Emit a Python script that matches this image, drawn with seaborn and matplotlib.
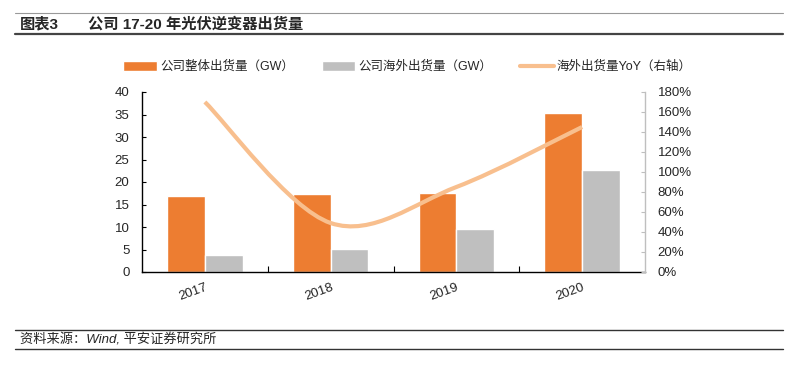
import pandas as pd
import matplotlib.pyplot as plt
import seaborn as sns
from matplotlib.path import Path
from matplotlib.patches import PathPatch, Patch
from matplotlib.lines import Line2D
from matplotlib.ticker import FuncFormatter

years = ['2017', '2018', '2019', '2020']
total_gw = [16.9, 17.3, 17.6, 35.4]
overseas_gw = [3.8, 5.1, 9.6, 22.7]
overseas_yoy = [170, 49, 85, 145]

lbl_total = '公司整体出货量（GW）'
lbl_overseas = '公司海外出货量（GW）'
lbl_yoy = '海外出货量YoY（右轴）'

c_orange = '#ED7D31'
c_gray = '#BFBFBF'
c_line = '#F8BF8E'

sns.set_style('white')
plt.rcParams['font.family'] = ['Liberation Sans', 'Noto Sans CJK SC']

df = pd.DataFrame({
    'year': years * 2,
    'value': total_gw + overseas_gw,
    'series': [lbl_total] * 4 + [lbl_overseas] * 4,
})

fig = plt.figure(figsize=(7.99, 3.77), dpi=100)
ax = fig.add_axes([142 / 799, 1 - 272 / 377, (645 - 142) / 799, (272 - 92) / 377])

sns.barplot(data=df, x='year', y='value', hue='series', palette=[c_orange, c_gray],
            width=0.6, gap=0, saturation=1, legend=False, ax=ax)
ax.set_xlim(-0.5, 3.5)
ax.set_ylim(0, 40)
ax.set_yticks(range(0, 41, 5))
ax.set_xlabel('')
ax.set_ylabel('')
ax.set_xticks(range(4))
ax.set_xticklabels(years, rotation=20, ha='right', rotation_mode='anchor', fontsize=9.5)
ax.set_xticks([0.5, 1.5, 2.5], minor=True)
ax.tick_params(axis='x', which='major', bottom=True, length=0, pad=7)
ax.tick_params(axis='x', which='minor', bottom=True, direction='in', length=4, width=0.8, color='black')
ax.tick_params(axis='y', left=True, direction='in', length=3, width=0.8, pad=9, labelsize=9.5, color='black')
for s in ['top', 'right']:
    ax.spines[s].set_visible(False)
for s in ['left', 'bottom']:
    ax.spines[s].set_color('black')
    ax.spines[s].set_linewidth(1)

# 右轴：平滑曲线（Excel 风格的三次贝塞尔）
ax2 = ax.twinx()
ax2.set_ylim(0, 180)
ax2.set_yticks(range(0, 181, 20))
ax2.yaxis.set_major_formatter(FuncFormatter(lambda v, p: f'{int(v)}%'))
ax2.tick_params(axis='y', right=True, direction='in', length=3, width=0.8, pad=9, labelsize=9.5, color=c_gray)
for s in ['top', 'left', 'bottom']:
    ax2.spines[s].set_visible(False)
ax2.spines['right'].set_color(c_gray)
ax2.spines['right'].set_linewidth(1)

pts = list(zip(range(len(overseas_yoy)), overseas_yoy))
verts = [pts[0]]
codes = [Path.MOVETO]
for i in range(len(pts) - 1):
    p0 = pts[max(i - 1, 0)]
    p1 = pts[i]
    p2 = pts[i + 1]
    p3 = pts[min(i + 2, len(pts) - 1)]
    c1 = (p1[0] + (p2[0] - p0[0]) / 6, p1[1] + (p2[1] - p0[1]) / 6)
    c2 = (p2[0] - (p3[0] - p1[0]) / 6, p2[1] - (p3[1] - p1[1]) / 6)
    verts += [c1, c2, p2]
    codes += [Path.CURVE4] * 3
ax2.add_patch(PathPatch(Path(verts, codes), fill=False, edgecolor=c_line, lw=3, capstyle='butt'))

handles = [Patch(facecolor=c_orange), Patch(facecolor=c_gray), Line2D([], [], color=c_line, lw=3)]
fig.legend(handles, [lbl_total, lbl_overseas, lbl_yoy], loc='center', bbox_to_anchor=(0.51, 1 - 67 / 377),
           ncol=3, frameon=False, fontsize=9, handlelength=2.7, handleheight=0.8,
           handletextpad=0.25, columnspacing=2.2)

# 标题与来源
fig.text(20 / 799, 1 - 24 / 377, '图表3', fontsize=11, fontweight='bold', va='center')
fig.text(88 / 799, 1 - 24 / 377, '公司 17-20 年光伏逆变器出货量', fontsize=11, fontweight='bold', va='center')
fig.add_artist(Line2D([15 / 799, 783 / 799], [1 - 13 / 377] * 2, color='#999999', lw=0.8))
fig.add_artist(Line2D([15 / 799, 783 / 799], [1 - 34 / 377] * 2, color='#444444', lw=1.6))
fig.add_artist(Line2D([15 / 799, 783 / 799], [1 - 330 / 377] * 2, color='#333333', lw=1))
fig.add_artist(Line2D([15 / 799, 783 / 799], [1 - 349 / 377] * 2, color='#333333', lw=1))
fig.text(20 / 799, 1 - 340 / 377, '资料来源：Wind, 平安证券研究所', fontsize=9.5, style='italic', va='center')

fig.savefig('out.png', dpi=100)
